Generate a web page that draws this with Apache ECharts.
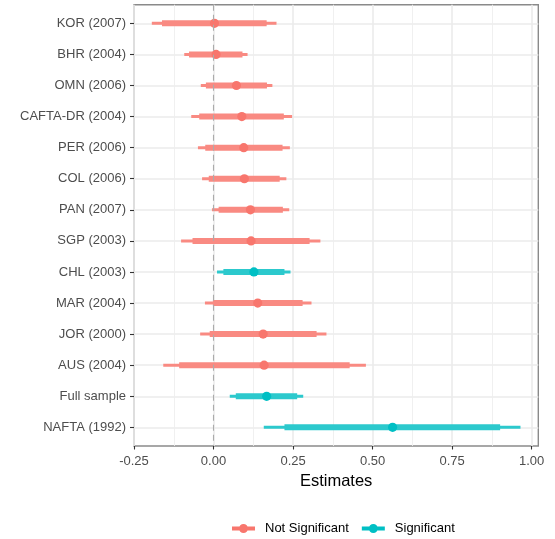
<!DOCTYPE html>
<html>
<head>
<meta charset="utf-8">
<script src="https://cdn.jsdelivr.net/npm/echarts@6/dist/echarts.min.js"></script>
<style>
  html, body { margin: 0; padding: 0; background: #fff; }
  #chart { width: 555px; height: 539px; }
</style>
</head>
<body>
<div id="chart"></div>
<script>
// Agreement terms, top to bottom
const terms = ['KOR (2007)', 'BHR (2004)', 'OMN (2006)', 'CAFTA-DR (2004)', 'PER (2006)',
  'COL (2006)', 'PAN (2007)', 'SGP (2003)', 'CHL (2003)', 'MAR (2004)', 'JOR (2000)',
  'AUS (2004)', 'Full sample', 'NAFTA (1992)'];
// Point estimates
const estimate  = [0.003, 0.008, 0.072, 0.089, 0.095, 0.097, 0.116, 0.118, 0.127, 0.139, 0.156, 0.159, 0.167, 0.563];
// Wide interval (thin bar)
const outerLow  = [-0.194, -0.092, -0.040, -0.070, -0.049, -0.036, -0.005, -0.102, 0.011, -0.027, -0.042, -0.158, 0.051, 0.158];
const outerHigh = [0.198, 0.107, 0.185, 0.247, 0.240, 0.229, 0.238, 0.336, 0.242, 0.308, 0.355, 0.479, 0.282, 0.965];
// Narrow interval (thick bar)
const innerLow  = [-0.162, -0.077, -0.024, -0.045, -0.026, -0.015, 0.016, -0.066, 0.031, -0.002, -0.012, -0.108, 0.070, 0.223];
const innerHigh = [0.167, 0.091, 0.168, 0.221, 0.217, 0.208, 0.218, 0.302, 0.223, 0.280, 0.324, 0.428, 0.263, 0.901];
// Significance group of each term
const significance = ['Not Significant', 'Not Significant', 'Not Significant', 'Not Significant',
  'Not Significant', 'Not Significant', 'Not Significant', 'Not Significant', 'Significant',
  'Not Significant', 'Not Significant', 'Not Significant', 'Significant', 'Significant'];
// Tick values
const xTicks = [-0.25, 0, 0.25, 0.5, 0.75, 1.0];
const xMinorTicks = [-0.125, 0.125, 0.375, 0.625, 0.875];
const groups = ['Not Significant', 'Significant'];

const pointColor = { 'Not Significant': '#F8766D', 'Significant': '#00BFC4' };
const barColor   = { 'Not Significant': '#F98A82', 'Significant': '#2CC9CD' };

const positions = terms.map((_, i) => i + 1);

function groupData(g) {
  const out = [];
  terms.forEach((t, i) => {
    if (significance[i] === g) {
      out.push([estimate[i], outerLow[i], outerHigh[i], innerLow[i], innerHigh[i], positions[i]]);
    }
  });
  return out;
}

function renderInterval(g) {
  return function (params, api) {
    const y = api.value(5);
    const pEst = api.coord([api.value(0), y]);
    const pOL = api.coord([api.value(1), y]);
    const pOH = api.coord([api.value(2), y]);
    const pIL = api.coord([api.value(3), y]);
    const pIH = api.coord([api.value(4), y]);
    return {
      type: 'group',
      children: [
        { type: 'line', shape: { x1: pOL[0], y1: pOL[1], x2: pOH[0], y2: pOH[1] },
          style: { stroke: barColor[g], lineWidth: 3 } },
        { type: 'line', shape: { x1: pIL[0], y1: pIL[1], x2: pIH[0], y2: pIH[1] },
          style: { stroke: barColor[g], lineWidth: 6 } },
        { type: 'circle', shape: { cx: pEst[0], cy: pEst[1], r: 4.6 },
          style: { fill: pointColor[g] } }
      ]
    };
  };
}

const legendIcon = 'path://M0,3 L23,3 L23,7 L0,7 Z M7,5 A4.5,4.5 0 1,1 16,5 A4.5,4.5 0 1,1 7,5 Z';

const chart = echarts.init(document.getElementById('chart'), null, { renderer: 'canvas' });

const series = [{
  // vertical reference line at zero
  type: 'line',
  data: [],
  silent: true,
  z: 1,
  markLine: {
    symbol: 'none',
    silent: true,
    label: { show: false },
    lineStyle: { color: '#ABABAB', type: [6, 4], width: 1.1 },
    data: [{ xAxis: 0 }]
  }
}];
groups.forEach(g => {
  series.push({
    name: g,
    type: 'custom',
    z: 3,
    itemStyle: { color: pointColor[g] },
    renderItem: renderInterval(g),
    encode: { x: [0, 1, 2, 3, 4], y: 5 },
    data: groupData(g)
  });
});

chart.setOption({
  animation: false,
  textStyle: { fontFamily: 'Liberation Sans, Arial, sans-serif' },
  grid: {
    left: 134, right: 16.7, top: 4.7, bottom: 93,
    show: true, borderColor: '#8A8A8A', borderWidth: 1.4, backgroundColor: 'transparent'
  },
  xAxis: [{
    type: 'value',
    min: -0.25, max: 1.021,
    name: 'Estimates',
    nameLocation: 'middle',
    nameGap: 27,
    nameTextStyle: { fontSize: 16.5, color: '#000' },
    axisLine: { show: false, onZero: false },
    axisTick: { show: true, length: 3.5, lineStyle: { color: '#333', width: 1.1 }, customValues: xTicks },
    axisLabel: {
      fontSize: 13, color: '#4D4D4D', margin: 9, customValues: xTicks,
      formatter: v => v.toFixed(2)
    },
    splitLine: { show: true, lineStyle: { color: '#EBEBEB', width: 1.6 } }
  }, {
    type: 'value',
    min: -0.25, max: 1.021,
    axisLine: { show: false, onZero: false },
    axisTick: { show: false, customValues: xMinorTicks },
    axisLabel: { show: false, customValues: xMinorTicks },
    splitLine: { show: true, lineStyle: { color: '#EEEEEE', width: 0.9 } }
  }],
  yAxis: {
    type: 'value',
    inverse: true,
    min: 0.4, max: 14.6,
    axisLine: { show: false, onZero: false },
    axisTick: { show: true, length: 4, lineStyle: { color: '#333', width: 1.1 }, customValues: positions },
    axisLabel: {
      fontSize: 13, color: '#4D4D4D', margin: 8, customValues: positions,
      formatter: v => terms[Math.round(v) - 1]
    },
    splitLine: { show: true, lineStyle: { color: '#EBEBEB', width: 1.6 } }
  },
  legend: {
    left: 227, top: 517,
    orient: 'horizontal',
    itemWidth: 23, itemHeight: 10, itemGap: 13,
    textStyle: { fontSize: 13, color: '#000', padding: [0, 0, 0, 5] },
    data: groups.map(g => ({ name: g, icon: legendIcon, itemStyle: { color: pointColor[g] } }))
  },
  series: series
});
</script>
</body>
</html>
